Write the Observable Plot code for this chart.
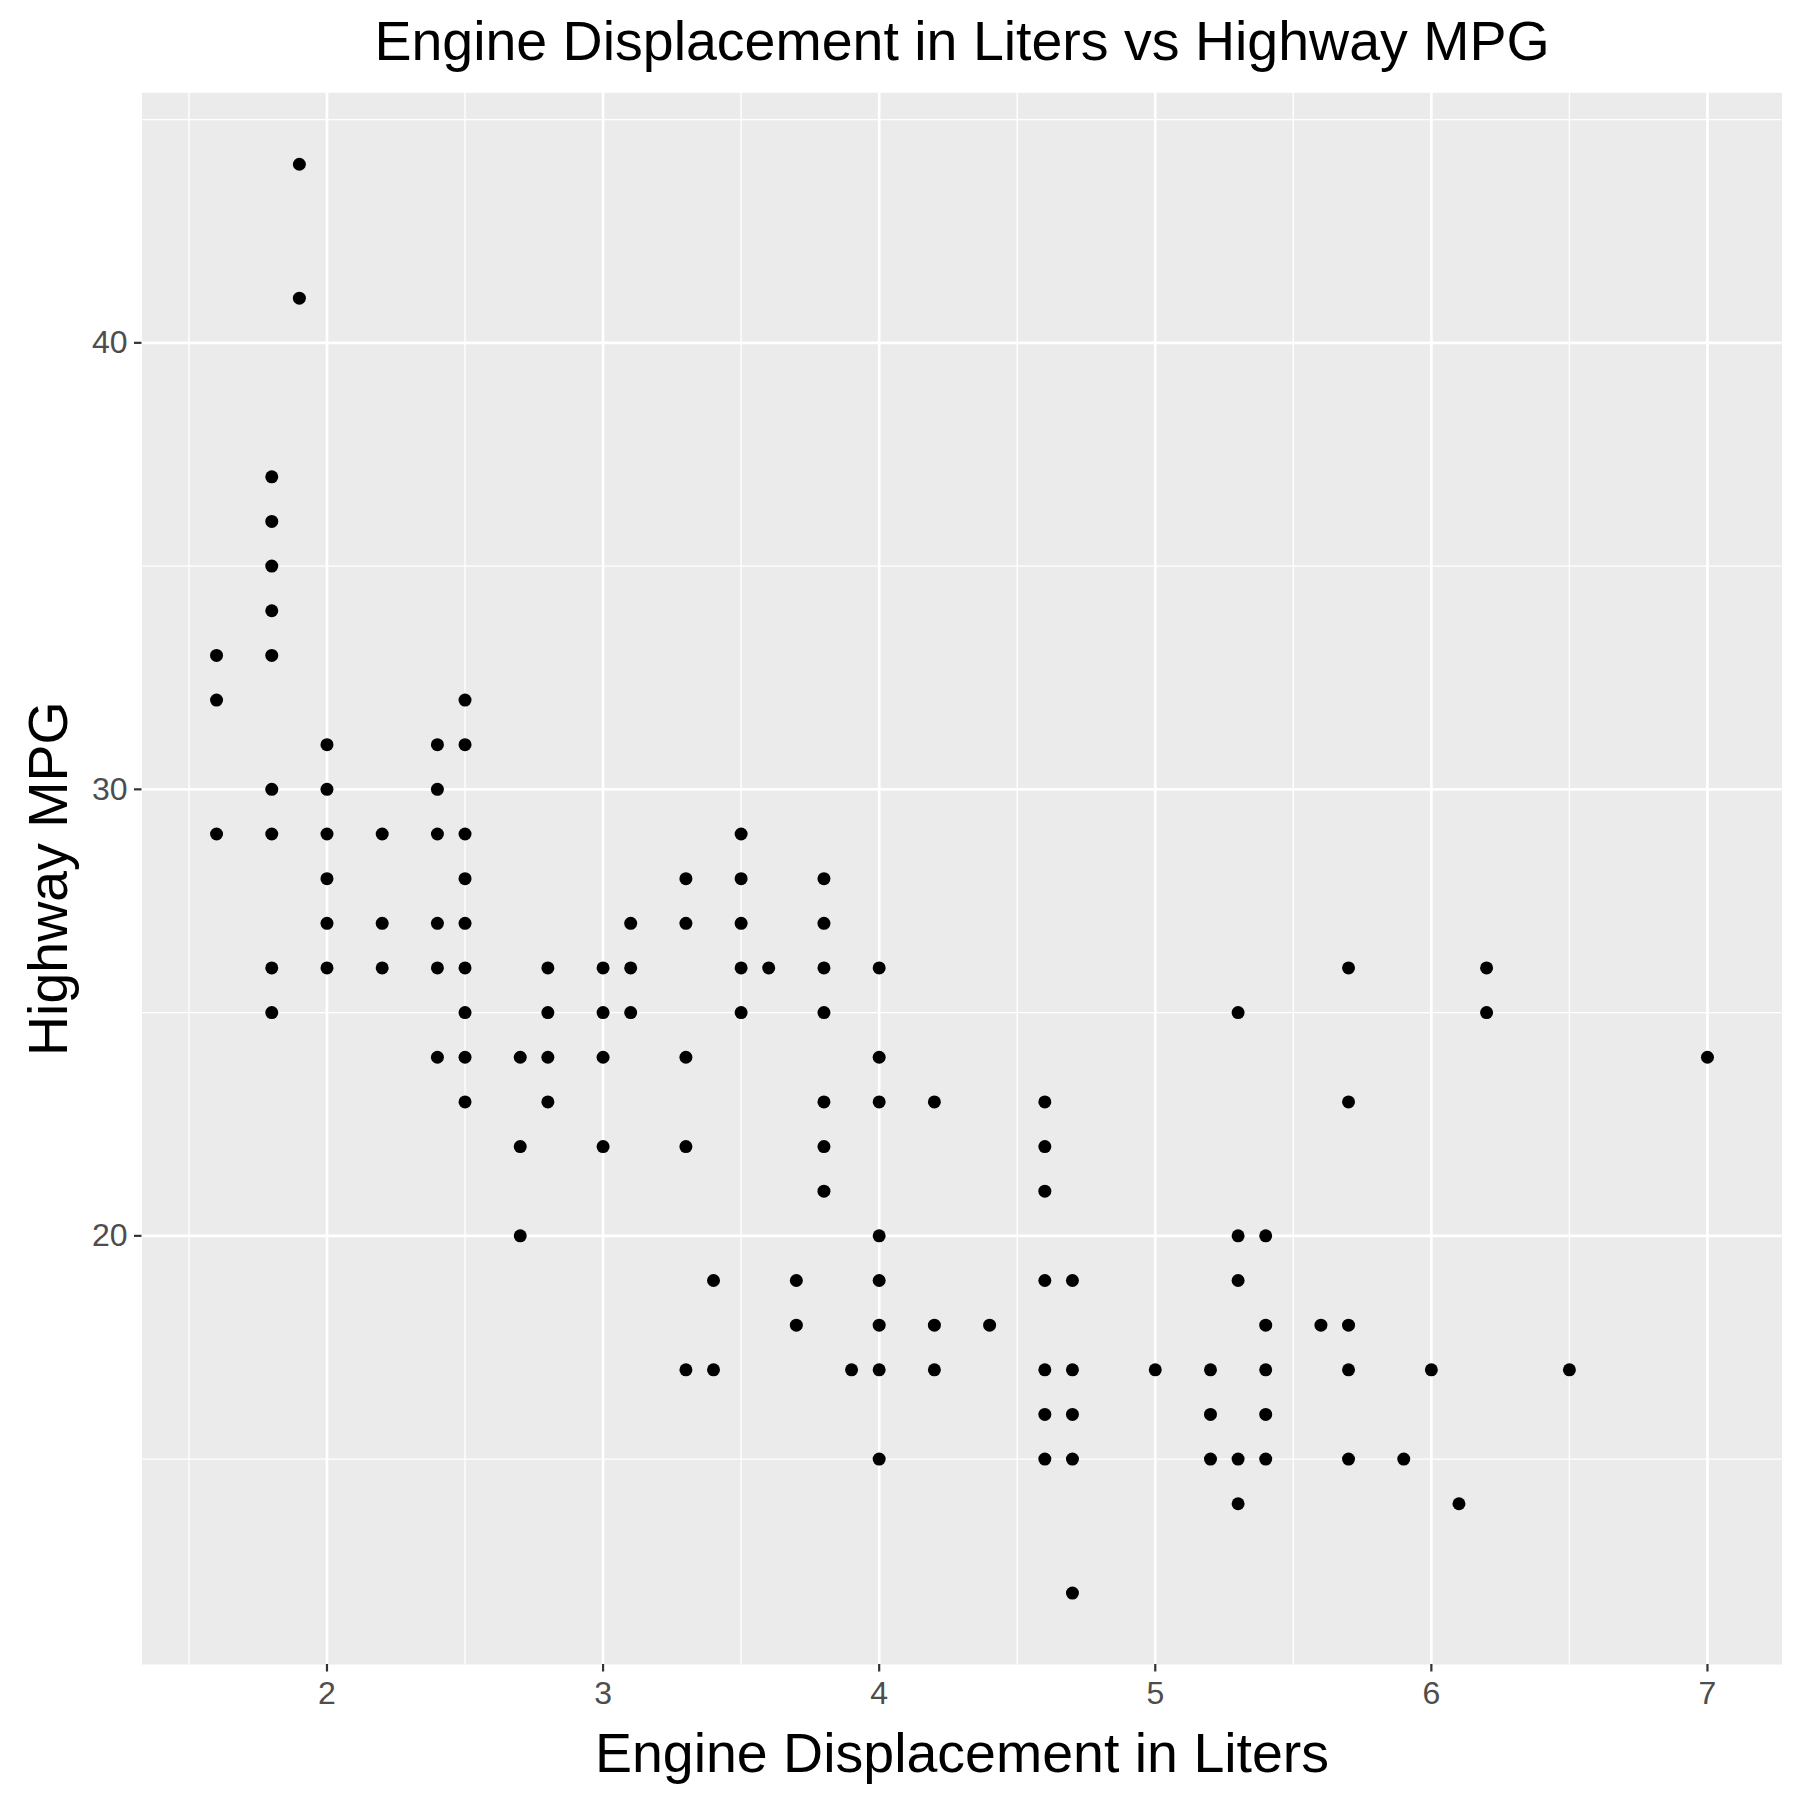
<!DOCTYPE html>
<html>
<head>
<meta charset="utf-8">
<script src="https://cdn.jsdelivr.net/npm/d3@7"></script>
<script src="https://cdn.jsdelivr.net/npm/@observablehq/plot@0.6"></script>
<style>
  html, body { margin: 0; padding: 0; background: white; }
  #chart { width: 1800px; height: 1800px; }
</style>
</head>
<body>
<div id="chart"></div>
<script>
// Engine displacement (liters) and the distinct highway MPG values seen at each
const displacements = [1.6, 1.8, 1.9, 2.0, 2.2, 2.4, 2.5, 2.7, 2.8, 3.0, 3.1, 3.3, 3.4, 3.5, 3.6, 3.7, 3.8, 3.9,
  4.0, 4.2, 4.4, 4.6, 4.7, 5.0, 5.2, 5.3, 5.4, 5.6, 5.7, 5.9, 6.0, 6.1, 6.2, 6.5, 7.0];
const highwayMpg = [
  [33, 32, 29],
  [37, 36, 35, 34, 33, 30, 29, 26, 25],
  [44, 41],
  [31, 30, 29, 28, 27, 26],
  [29, 27, 26],
  [31, 30, 29, 27, 26, 24],
  [32, 31, 29, 28, 27, 26, 25, 24, 23],
  [24, 22, 20],
  [26, 25, 24, 23],
  [26, 25, 24, 22],
  [27, 26, 25],
  [28, 27, 24, 22, 17],
  [19, 17],
  [29, 28, 27, 26, 25],
  [26],
  [19, 18],
  [28, 27, 26, 25, 23, 22, 21],
  [17],
  [26, 24, 23, 20, 19, 18, 17, 15],
  [23, 18, 17],
  [18],
  [23, 22, 21, 19, 17, 16, 15],
  [19, 17, 16, 15, 12],
  [17],
  [17, 16, 15],
  [25, 20, 19, 15, 14],
  [20, 18, 17, 16, 15],
  [18],
  [26, 23, 18, 17, 15],
  [15],
  [17],
  [14],
  [26, 25],
  [17],
  [24]
];
const xMajorTicks = [2, 3, 4, 5, 6, 7];
const xMinorTicks = [1.5, 2.5, 3.5, 4.5, 5.5, 6.5];
const yMajorTicks = [20, 30, 40];
const yMinorTicks = [15, 25, 35, 45];
const titleText = "Engine Displacement in Liters vs Highway MPG";
const xTitle = "Engine Displacement in Liters";
const yTitle = "Highway MPG";

const points = displacements.flatMap((d, i) => highwayMpg[i].map((h) => ({displ: d, hwy: h})));

const marginLeft = 141.5, marginRight = 18.5, marginTop = 92.3, marginBottom = 136;

const chart = Plot.plot({
  width: 1800,
  height: 1800,
  marginLeft, marginRight, marginTop, marginBottom,
  style: {fontFamily: "'Liberation Sans', Arial, Helvetica, sans-serif", background: "white", overflow: "visible"},
  x: {domain: [1.33, 7.27]},
  y: {domain: [10.4, 45.6]},
  marks: [
    Plot.frame({fill: "#EBEBEB", stroke: "none"}),
    Plot.ruleX(xMinorTicks, {stroke: "white", strokeWidth: 1.35}),
    Plot.ruleY(yMinorTicks, {stroke: "white", strokeWidth: 1.35}),
    Plot.ruleX(xMajorTicks, {stroke: "white", strokeWidth: 2.7}),
    Plot.ruleY(yMajorTicks, {stroke: "white", strokeWidth: 2.7}),
    Plot.dot(points, {x: "displ", y: "hwy", r: 6.5, fill: "black", stroke: "none"}),
    Plot.axisX(xMajorTicks, {label: null, tickSize: 7.5, tickPadding: 8.8, fontSize: 32,
      stroke: "#333333", strokeWidth: 2.2, fill: "#4D4D4D", tickFormat: (d) => String(d)}),
    Plot.axisY(yMajorTicks, {label: null, tickSize: 7.5, tickPadding: 7, fontSize: 32,
      stroke: "#333333", strokeWidth: 2.2, fill: "#4D4D4D", tickFormat: (d) => String(d)}),
    Plot.text([titleText], {frameAnchor: "top", dy: 59 - marginTop, lineAnchor: "bottom",
      fontSize: 55.5, fill: "black"}),
    Plot.text([xTitle], {frameAnchor: "bottom", dy: 1771 - (1800 - marginBottom), lineAnchor: "bottom",
      fontSize: 55.5, fill: "black"}),
    Plot.text([yTitle], {frameAnchor: "left", dx: 66 - marginLeft, rotate: -90, lineAnchor: "bottom",
      textAnchor: "middle", fontSize: 55.5, fill: "black"})
  ]
});
document.getElementById("chart").appendChild(chart);
</script>
</body>
</html>
